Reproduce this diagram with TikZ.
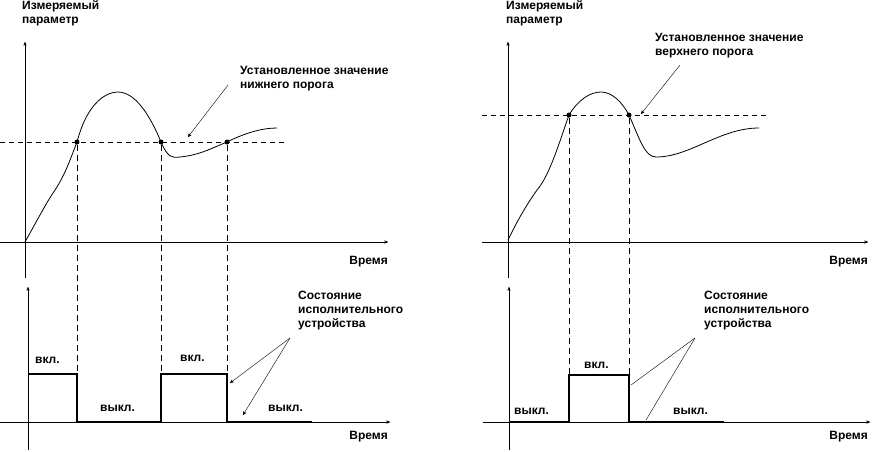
\documentclass[tikz,border=0pt]{standalone}
\usepackage{fontspec}
\setmainfont{Liberation Sans}
\usetikzlibrary{arrows,positioning}

\tikzset{
  axis/.style={->, >=stealth', thin},
  thr/.style={dashed, thin, dash pattern=on 5pt off 4pt},
  drop/.style={dashed, thin, dash pattern=on 6pt off 4pt},
  signal/.style={line width=1.6pt},
  lbl/.style={font=\bfseries\fontsize{12}{14}\selectfont, inner sep=0pt},
  note/.style={lbl, align=left, anchor=north west},
  dot/.style={circle, fill=black, inner sep=0pt, minimum size=5pt},
}

\begin{document}
\begin{tikzpicture}[x=1pt, y=-1pt]
    \useasboundingbox (0,0) rectangle (874,451);

    % lower threshold
    \begin{scope}
        \draw[axis] (25,278) -- (25,42);
        \draw[axis] (0,242) -- (388,242);
        \draw[axis] (28,450) -- (28,287);
        \draw[axis] (0,422) -- (390,422);
        \draw[thr] (0,142) -- (287,142);
        \draw[thick] (25,242) .. controls (40,215) and (48,200) .. (55,190)
            .. controls (65,175) and (70,160) .. (77,142)
            .. controls (88,100) and (108,92) .. (118,92)
            .. controls (135,92) and (150,115) .. (161,142)
            .. controls (168,158) and (172,158) .. (180,157)
            .. controls (200,155) and (212,148) .. (227,142)
            .. controls (245,133) and (262,128) .. (277,128);
        \node[dot] (la) at (77,142) {};
        \node[dot] (lb) at (161,142) {};
        \node[dot] (lc) at (227,142) {};
        \foreach \p in {la,lb,lc}
            \draw[drop] (\p) -- (\p |- 0,422);
        \draw[signal] (28,374) -- (77,374) -- (77,422) -- (161,422)
            -- (161,374) -- (227,374) -- (227,422) -- (312,422);
        \node[lbl, anchor=west] (on1) at (35,360) {вкл.};
        \node[lbl, anchor=west] (off1) at (100,408) {выкл.};
        \node[lbl, anchor=west] (on2) at (180,358) {вкл.};
        \node[lbl, anchor=west] (off2) at (268,408) {выкл.};
        \node[lbl, anchor=east] (t1) at (388,262) {Время};
        \node[lbl, anchor=east] (t2) at (388,437) {Время};
        \node[note] (par1) at (22,0) {Измеряемый\\параметр};
        \node[note] (lim1) at (240,66) {Установленное значение\\нижнего порога};
        \node[note] (st1) at (298,291) {Состояние\\исполнительного\\устройства};
        \coordinate (a1) at (228,85);
        \coordinate (a2) at (188,137);
        \draw[->, >=stealth', thin] (a1) -- (a2);
        \coordinate (s1) at (290,338);
        \coordinate (s2) at (230,383);
        \coordinate (s3) at (243,415);
        \draw[->, >=stealth', thin] (s1) -- (s2);
        \draw[->, >=stealth', thin] (s1) -- (s3);
    \end{scope}

    % upper threshold
    \begin{scope}
        \draw[axis] (508,278) -- (508,42);
        \draw[axis] (482,242) -- (868,242);
        \draw[axis] (509,450) -- (509,287);
        \draw[axis] (483,422) -- (870,422);
        \draw[thr] (482,115) -- (769,115);
        \draw[thick] (508,240) .. controls (520,215) and (530,200) .. (537,190)
            .. controls (550,175) and (560,140) .. (569,115)
            .. controls (578,100) and (590,92) .. (601,92)
            .. controls (612,92) and (622,102) .. (629,115)
            .. controls (640,140) and (645,157) .. (656,157)
            .. controls (690,157) and (720,128) .. (759,128);
        \node[dot] (ra) at (569,115) {};
        \node[dot] (rb) at (629,115) {};
        \foreach \p in {ra,rb}
            \draw[drop] (\p) -- (\p |- 0,422);
        \draw[signal] (509,422) -- (569,422) -- (569,375) -- (629,375)
            -- (629,422) -- (724,422);
        \node[lbl, anchor=west] (off3) at (514,411) {выкл.};
        \node[lbl, anchor=west] (on3) at (584,365) {вкл.};
        \node[lbl, anchor=west] (off4) at (673,411) {выкл.};
        \node[lbl, anchor=east] (t3) at (868,262) {Время};
        \node[lbl, anchor=east] (t4) at (868,437) {Время};
        \node[note] (par2) at (506,0) {Измеряемый\\параметр};
        \node[note] (lim2) at (655,33) {Установленное значение\\верхнего порога};
        \node[note] (st2) at (704,291) {Состояние\\исполнительного\\устройства};
        \coordinate (b1) at (680,65);
        \coordinate (b2) at (641,114);
        \draw[->, >=stealth', thin] (b1) -- (b2);
        \coordinate (u1) at (695,338);
        \coordinate (u2) at (631,385);
        \coordinate (u3) at (646,420);
        \draw[thin] (u1) -- (u2);
        \draw[thin] (u1) -- (u3);
    \end{scope}
\end{tikzpicture}
\end{document}
